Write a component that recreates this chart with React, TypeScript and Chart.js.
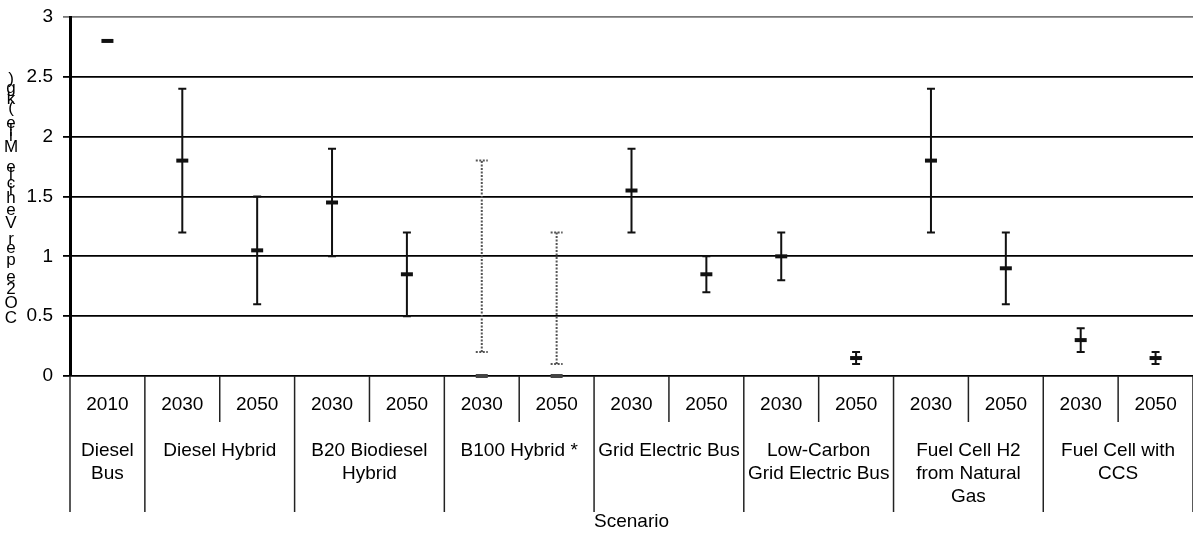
import React, { useEffect, useRef } from "react";
import { Chart, registerables } from "chart.js";

Chart.register(...registerables);

const years = ["2010", "2030", "2050", "2030", "2050", "2030", "2050", "2030", "2050", "2030", "2050", "2030", "2050", "2030", "2050"];
const scenarios = [
  ["Diesel", "Bus"],
  ["Diesel Hybrid"],
  ["B20 Biodiesel", "Hybrid"],
  ["B100 Hybrid *"],
  ["Grid Electric Bus"],
  ["Low-Carbon", "Grid Electric Bus"],
  ["Fuel Cell H2", "from Natural", "Gas"],
  ["Fuel Cell with", "CCS"],
];
const scenarioSpans = [1, 2, 2, 2, 2, 2, 2, 2];
const values = [2.8, 1.8, 1.05, 1.45, 0.85, 0, 0, 1.55, 0.85, 1.0, 0.15, 1.8, 0.9, 0.3, 0.15];
const lows = [null, 1.2, 0.6, 1.0, 0.5, 0.2, 0.1, 1.2, 0.7, 0.8, 0.1, 1.2, 0.6, 0.2, 0.1];
const highs = [null, 2.4, 1.5, 1.9, 1.2, 1.8, 1.2, 1.9, 1.0, 1.2, 0.2, 2.4, 1.2, 0.4, 0.2];
const dottedPoints = [false, false, false, false, false, true, true, false, false, false, false, false, false, false, false];
const yTicks = [0, 0.5, 1, 1.5, 2, 2.5, 3];
const yTitle = "CO2e per Vehicle Mile (kg)";
const xTitle = "Scenario";

const FONT = '"Liberation Sans", Arial, sans-serif';

const errorBarPlugin = {
  id: "errorBars",
  beforeDatasetsDraw(chart: any) {
    const ctx = chart.ctx;
    const x = chart.scales.x;
    const y = chart.scales.y;
    ctx.save();
    for (let i = 0; i < values.length; i++) {
      const lo = lows[i];
      const hi = highs[i];
      if (lo == null || hi == null) continue;
      const px = x.getPixelForValue(i);
      const pLo = y.getPixelForValue(lo);
      const pHi = y.getPixelForValue(hi);
      const dotted = dottedPoints[i];
      ctx.strokeStyle = dotted ? "#555" : "#111";
      ctx.lineWidth = 2;
      ctx.setLineDash(dotted ? [2, 1.5] : []);
      ctx.beginPath();
      ctx.moveTo(px, pLo);
      ctx.lineTo(px, pHi);
      const cw = dotted ? 6 : 4;
      ctx.moveTo(px - cw, pLo);
      ctx.lineTo(px + cw, pLo);
      ctx.moveTo(px - cw, pHi);
      ctx.lineTo(px + cw, pHi);
      ctx.stroke();
    }
    ctx.restore();
  },
};

const labelsPlugin = {
  id: "catLabels",
  afterDraw(chart: any) {
    const ctx = chart.ctx;
    const x = chart.scales.x;
    const area = chart.chartArea;
    const catW = area.width / years.length;
    const bottom = area.bottom;
    ctx.save();
    ctx.fillStyle = "#000";
    ctx.strokeStyle = "#222";
    ctx.lineWidth = 1.5;
    ctx.textAlign = "center";
    ctx.textBaseline = "middle";
    // year row
    ctx.font = "19px " + FONT;
    for (let i = 0; i < years.length; i++) {
      ctx.fillText(years[i], x.getPixelForValue(i), 405);
    }
    // separators
    let idx = 0;
    const groupStarts: number[] = [];
    for (let g = 0; g < scenarioSpans.length; g++) {
      groupStarts.push(idx);
      idx += scenarioSpans[g];
    }
    for (let i = 0; i <= years.length; i++) {
      const sx = area.left + i * catW;
      const isGroup = groupStarts.includes(i) || i === years.length;
      ctx.beginPath();
      ctx.moveTo(sx, bottom);
      ctx.lineTo(sx, isGroup ? 512 : 422);
      ctx.stroke();
    }
    // group labels
    ctx.font = "19px " + FONT;
    for (let g = 0; g < scenarios.length; g++) {
      const start = groupStarts[g];
      const cx = area.left + (start + scenarioSpans[g] / 2) * catW;
      scenarios[g].forEach((line, li) => {
        ctx.fillText(line, cx, 451 + li * 23);
      });
    }
    // x title
    ctx.font = "19px " + FONT;
    ctx.fillText(xTitle, (area.left + area.right) / 2, 522);
    // y title: characters stacked upright, reading bottom to top
    ctx.font = "17px " + FONT;
    const chars = yTitle.split("");
    const widths = chars.map((c) => ctx.measureText(c).width);
    const total = widths.reduce((a, b) => a + b, 0);
    const span = 250;
    const scale = span / total;
    let cy = 326;
    for (let i = 0; i < chars.length; i++) {
      const adv = widths[i] * scale;
      const mid = cy - adv / 2;
      if (chars[i] !== " ") ctx.fillText(chars[i], 11, mid);
      cy -= adv;
    }
    ctx.restore();
  },
};

export default function App() {
  const ref = useRef<HTMLCanvasElement | null>(null);
  useEffect(() => {
    if (!ref.current) return;
    const chart = new Chart(ref.current, {
      type: "line",
      data: {
        labels: years.map((y, i) => `${y}-${i}`),
        datasets: [
          {
            data: values,
            showLine: false,
            pointStyle: "line",
            pointRadius: 6,
            pointHoverRadius: 6,
            pointBorderWidth: 4,
            pointBorderColor: dottedPoints.map((d) => (d ? "#444" : "#111")),
            pointBackgroundColor: dottedPoints.map((d) => (d ? "#444" : "#111")),
            clip: false as any,
          },
        ],
      },
      options: {
        responsive: false,
        animation: false,
        events: [],
        layout: { autoPadding: false, padding: { top: 17, bottom: 157, left: 0, right: 0 } },
        plugins: { legend: { display: false }, tooltip: { enabled: false } },
        scales: {
          x: { type: "category", offset: true, display: false },
          y: {
            min: 0,
            max: 3,
            afterBuildTicks: (scale: any) => {
              scale.ticks = yTicks.map((v) => ({ value: v }));
            },
            afterFit: (scale: any) => {
              scale.width = 70;
              scale.paddingTop = 0;
              scale.paddingBottom = 0;
            },
            ticks: {
              color: "#000",
              font: { size: 19, family: FONT },
              padding: 10,
              callback: (v: any) => String(v),
            },
            grid: {
              color: (c: any) => (c.tick && c.tick.value === 3 ? "#777" : "#000"),
              lineWidth: 1.8,
              tickLength: 7,
              drawTicks: true,
            },
            border: { display: true, color: "#000", width: 3 },
          },
        },
      },
      plugins: [errorBarPlugin, labelsPlugin],
    });
    return () => chart.destroy();
  }, []);
  return (
    <div style={{ position: "absolute", left: 0, top: 0, width: 1193, height: 533, background: "#fff" }}>
      <canvas ref={ref} width={1193} height={533} style={{ width: 1193, height: 533 }} />
    </div>
  );
}
